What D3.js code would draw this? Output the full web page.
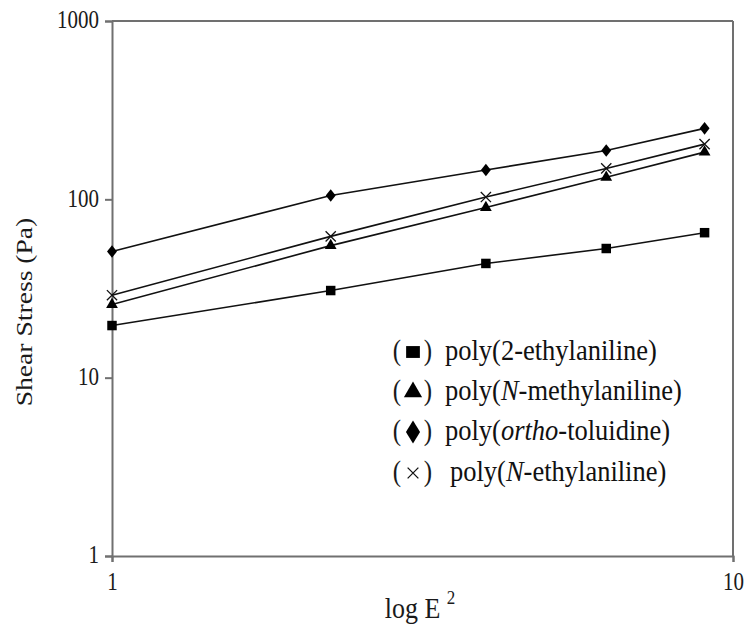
<!DOCTYPE html>
<html><head><meta charset="utf-8">
<script src="https://cdn.jsdelivr.net/npm/d3@7"></script>
<style>body{margin:0;background:#fff}svg{display:block}</style>
</head><body><svg id="c" width="750" height="628" style="font-family:'Liberation Serif',serif"></svg>
<script>
const xValues = [1, 2.25, 4, 6.25, 9];
const yTicks = [1, 10, 100, 1000];
const xTicks = [1, 10];
const seriesNames = ["poly(2-ethylaniline)", "poly(N-methylaniline)", "poly(ortho-toluidine)", "poly(N-ethylaniline)"];
const seriesSymbols = ["square", "triangle", "diamond", "cross"];
const ethylaniline2 = [19.6, 30.8, 43.7, 53, 65];
const nMethylaniline = [25.7, 55, 90, 133, 184];
const orthoToluidine = [51, 105, 146, 188, 250];
const nEthylaniline = [29, 62, 103, 149, 204];
const seriesValues = [ethylaniline2, nMethylaniline, orthoToluidine, nEthylaniline];

const FONT = "'Liberation Serif','Times New Roman',serif";
const svg = d3.select("#c");
const L = 112, R = 733, T = 21, B = 556;
const x = d3.scaleLog().domain([1, 10]).range([L, R]);
const y = d3.scaleLog().domain([1, 1000]).range([B, T]);
const axisColor = "#707070";
const SY = 1.15; // vertical stretch of text in the reference

svg.append("line").attr("x1", L).attr("x2", R).attr("y1", T).attr("y2", T).attr("stroke", axisColor).attr("stroke-width", 2);
svg.append("line").attr("x1", R).attr("x2", R).attr("y1", T).attr("y2", B).attr("stroke", axisColor).attr("stroke-width", 2);

const yAxis = svg.append("g").attr("transform", `translate(${L},0)`)
  .call(d3.axisLeft(y).tickValues(yTicks).tickFormat(d3.format("d")).tickSize(7).tickPadding(6));
const xAxis = svg.append("g").attr("transform", `translate(0,${B})`)
  .call(d3.axisBottom(x).tickValues(xTicks).tickFormat(d3.format("d")).tickSize(6).tickPadding(11));
[yAxis, xAxis].forEach(a => {
  a.attr("font-family", null);
  a.select(".domain").attr("stroke", axisColor).attr("stroke-width", 2);
  a.selectAll(".tick line").attr("stroke", axisColor).attr("stroke-width", 2);
  a.selectAll(".tick text").style("font-family", FONT).attr("font-size", 21).attr("fill", "#1a1a1a");
});
yAxis.selectAll(".tick text").attr("dy", null).attr("y", 6).attr("transform", `scale(1,${SY})`);
xAxis.selectAll(".tick text").attr("dy", null).attr("y", 34 / SY).attr("transform", `scale(1,${SY})`);

svg.append("text").attr("transform", "translate(32,312) rotate(-90) scale(1.15,1)").attr("text-anchor", "middle")
  .style("font-family", FONT).attr("font-size", 24).attr("fill", "#1a1a1a").text("Shear Stress (Pa)");
const xl = svg.append("g").attr("transform", `translate(420,618) scale(1,${SY})`)
  .append("text").attr("text-anchor", "middle").style("font-family", FONT).attr("font-size", 26).attr("fill", "#1a1a1a");
xl.append("tspan").text("log E ");
xl.append("tspan").attr("font-size", 17).attr("dy", -12).text("2");

const line = d3.line().x((d, i) => x(xValues[i])).y(d => y(d));
const sym = {
  square: d3.symbol().type(d3.symbolSquare).size(90),
  triangle: d3.symbol().type(d3.symbolTriangle).size(60),
  diamond: d3.symbol().type(d3.symbolDiamond2).size(70),
  cross: d3.symbol().type(d3.symbolX).size(70)
};
function drawSym(g, type, cx, cy, sx, sy) {
  const p = g.append("path").attr("d", sym[type]()).attr("transform", `translate(${cx},${cy}) scale(${sx},${sy})`);
  if (type === "cross") p.attr("fill", "none").attr("stroke", "#111").attr("stroke-width", 1.3 / Math.min(sx, sy));
  else p.attr("fill", "#000");
}

seriesValues.forEach((vals, s) => {
  svg.append("path").attr("d", line(vals)).attr("fill", "none").attr("stroke", "#111").attr("stroke-width", 1.6);
  const g = svg.append("g");
  const t = seriesSymbols[s];
  vals.forEach((v, i) => drawSym(g, t, x(xValues[i]), y(v), t === "diamond" ? 0.95 : 1, t === "diamond" ? 1.2 : 1));
});

const legY = [352, 392, 432, 473];
const legSX = [1.45, 1.55, 1.35, 1.05];
const legSY = [1.25, 1.55, 2.2, 1.05];
const lg = svg.append("g");
seriesNames.forEach((n, i) => {
  const yy = legY[i];
  const row = lg.append("g").attr("transform", `translate(0,${yy + 8}) scale(1,${SY})`);
  row.append("text").attr("x", 397).attr("y", 0).style("font-family", FONT).attr("font-size", 25).attr("text-anchor", "middle").attr("fill", "#1a1a1a").text("(");
  row.append("text").attr("x", 428).attr("y", 0).style("font-family", FONT).attr("font-size", 25).attr("text-anchor", "middle").attr("fill", "#1a1a1a").text(")");
  drawSym(lg, seriesSymbols[i], 413, yy, legSX[i], legSY[i]);
  const t = row.append("text").attr("x", i === 3 ? 450 : 445).attr("y", 0).style("font-family", FONT).attr("font-size", 26.5).attr("fill", "#111");
  const m = n.match(/^(poly\()(N|ortho)(-.*)$/);
  if (m) {
    t.append("tspan").text(m[1]);
    t.append("tspan").attr("font-style", "italic").text(m[2]);
    t.append("tspan").text(m[3]);
  } else t.text(n);
});
</script></body></html>
